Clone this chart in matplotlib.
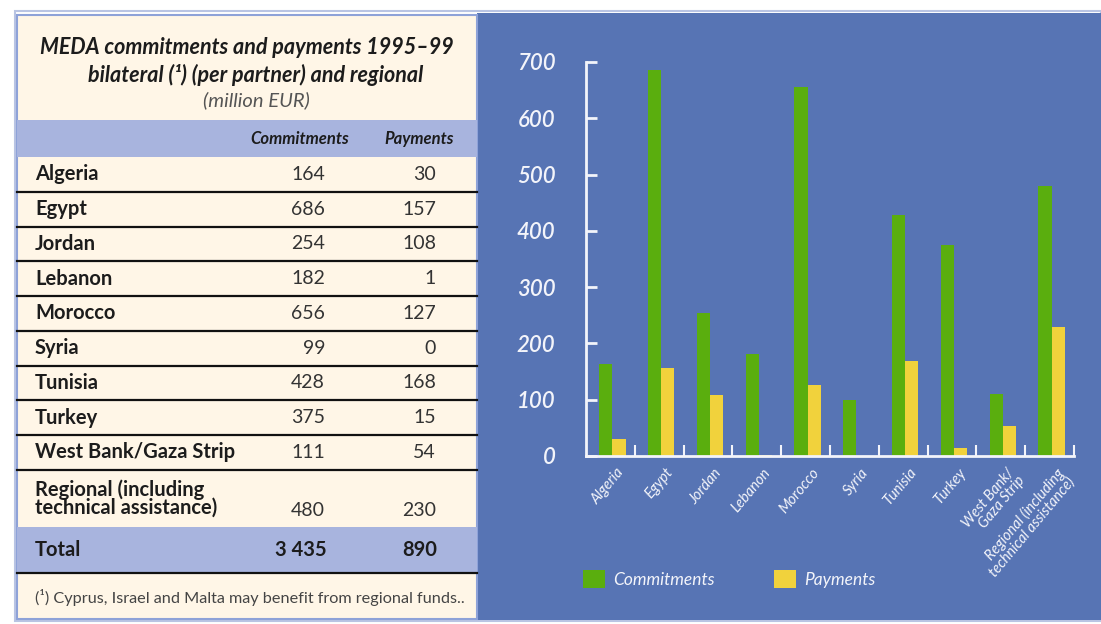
import matplotlib
matplotlib.use("Agg")
import numpy as np
import matplotlib.pyplot as plt
from matplotlib.patches import Rectangle, Patch
import matplotlib.transforms as mtransforms

# Data (million EUR)
partners = ["Algeria", "Egypt", "Jordan", "Lebanon", "Morocco", "Syria",
            "Tunisia", "Turkey", "West Bank/Gaza Strip",
            "Regional (including\ntechnical assistance)"]
chart_labels = ["Algeria", "Egypt", "Jordan", "Lebanon", "Morocco", "Syria",
                "Tunisia", "Turkey", "West Bank/\nGaza Strip",
                "Regional (including\ntechnical assistance)"]
commitments = [164, 686, 254, 182, 656, 99, 428, 375, 111, 480]
payments = [30, 157, 108, 1, 127, 0, 168, 15, 54, 230]
y_ticks = [0, 100, 200, 300, 400, 500, 600, 700]

# Colours
BLUE = "#5774b4"
CREAM = "#fff6e7"
LAVENDER = "#a8b4de"
GREEN = "#5aae0e"
YELLOW = "#f1d23c"
WHITE = "#f3f4fa"
INK = "#1c1c1c"

plt.rcParams["font.family"] = ["Lato", "DejaVu Sans"]

fig = plt.figure(figsize=(11.01, 6.24), dpi=100)

# Background layer in pixel coordinates
bg = fig.add_axes([0, 0, 1, 1])
bg.set_xlim(0, 1101)
bg.set_ylim(624, 0)
bg.axis("off")

bg.add_patch(Rectangle((15, 11), 1086, 610, facecolor="none",
                       edgecolor="#b9c4e3", linewidth=1.5))
bg.add_patch(Rectangle((477, 13), 624, 607, facecolor=BLUE, edgecolor="none"))
bg.add_patch(Rectangle((17, 15), 460, 604, facecolor=CREAM,
                       edgecolor="#8ea2d8", linewidth=1.5))
bg.add_patch(Rectangle((17, 120), 460, 37, facecolor=LAVENDER, edgecolor="none"))
bg.add_patch(Rectangle((17, 527), 460, 46, facecolor=LAVENDER, edgecolor="none"))

# Table title
bg.text(247, 48, "MEDA commitments and payments 1995\u201399", ha="center",
        va="center", fontsize=15.5, fontweight="bold", fontstyle="italic", color=INK)
bg.text(256, 75, "bilateral (\u00b9) (per partner) and regional", ha="center",
        va="center", fontsize=15.5, fontweight="bold", fontstyle="italic", color=INK)
bg.text(256, 100, "(million EUR)", ha="center", va="center", fontsize=14.5,
        fontstyle="italic", color="#555555")

# Column headers
bg.text(300, 139, "Commitments", ha="center", va="center", fontsize=12,
        fontweight="bold", fontstyle="italic", color=INK)
bg.text(419, 139, "Payments", ha="center", va="center", fontsize=12,
        fontweight="bold", fontstyle="italic", color=INK)

# Table rows
row_h = 34.75
top = 157
for i, name in enumerate(partners):
    if i < 9:
        yc = top + row_h * (i + 0.5)
        bg.text(35, yc, name, ha="left", va="center", fontsize=14.5,
                fontweight="bold", color=INK)
        bg.text(325, yc, str(commitments[i]), ha="right", va="center",
                fontsize=14, color="#333333")
        bg.text(436, yc, str(payments[i]), ha="right", va="center",
                fontsize=14, color="#333333")
        bg.plot([17, 477], [top + row_h * (i + 1)] * 2, color="#111111", lw=1.6)
    else:
        bg.text(35, 499, name, ha="left", va="center", fontsize=14.5,
                fontweight="bold", color=INK, linespacing=0.85)
        bg.text(325, 510, str(commitments[i]), ha="right", va="center",
                fontsize=14, color="#333333")
        bg.text(436, 510, str(payments[i]), ha="right", va="center",
                fontsize=14, color="#333333")

total_c = "{:,}".format(sum(commitments)).replace(",", " ")
total_p = "{:,}".format(sum(payments)).replace(",", " ")
bg.text(35, 550, "Total", ha="left", va="center", fontsize=14.5,
        fontweight="bold", color=INK)
bg.text(327, 550, total_c, ha="right", va="center", fontsize=14.5,
        fontweight="bold", color=INK)
bg.text(437, 550, total_p, ha="right", va="center", fontsize=14.5,
        fontweight="bold", color=INK)
bg.plot([17, 477], [573, 573], color="#111111", lw=1.6)

bg.text(35, 597, "(\u00b9) Cyprus, Israel and Malta may benefit from regional funds..",
        ha="left", va="center", fontsize=11.7, color="#444444")

# Bar chart
ax = fig.add_axes([586 / 1101, (624 - 456) / 624, 488 / 1101, 394 / 624])
ax.set_facecolor("none")
x = np.arange(len(commitments))
w = 0.27
ax.bar(x - w / 2 + 0.04, commitments, w, color=GREEN, label="Commitments")
ax.bar(x + w / 2 + 0.04, payments, w, color=YELLOW, label="Payments")

ax.set_xlim(-0.5, len(x) - 0.5)
ax.set_ylim(0, 700)
for side in ["top", "right"]:
    ax.spines[side].set_visible(False)
for side in ["left", "bottom"]:
    ax.spines[side].set_color(WHITE)
    ax.spines[side].set_linewidth(2)

ax.set_yticks(y_ticks)
ax.set_yticklabels([str(v) for v in y_ticks], fontsize=16, fontstyle="italic",
                   fontweight="semibold", color=WHITE)
ax.tick_params(axis="y", direction="in", length=8, width=2, color=WHITE, pad=22)

ax.set_xticks(x)
ax.set_xticklabels(chart_labels, rotation=50, ha="right", rotation_mode="anchor",
                   fontsize=10.5, fontstyle="italic", color=WHITE, linespacing=0.9)
ax.tick_params(axis="x", length=0, pad=7)
offset = mtransforms.ScaledTranslation(6 / 100, 0, fig.dpi_scale_trans)
for lab in ax.get_xticklabels():
    lab.set_transform(lab.get_transform() + offset)
ax.set_xticks(np.arange(len(x)) + 0.5, minor=True)
ax.tick_params(axis="x", which="minor", direction="in", length=8, width=1.5,
               color=WHITE)

handles = [Patch(facecolor=GREEN, label="Commitments"),
           Patch(facecolor=YELLOW, label="Payments")]
leg = ax.legend(handles=handles, loc="center left", ncol=2, frameon=False,
                bbox_to_anchor=(574 / 1101, (624 - 579) / 624),
                bbox_transform=fig.transFigure, borderpad=0,
                handlelength=1.3, handleheight=1.3, handletextpad=0.45,
                columnspacing=3.4, prop={"style": "italic", "size": 12.5})
for t in leg.get_texts():
    t.set_color(WHITE)

plt.savefig("out.png", dpi=100)
